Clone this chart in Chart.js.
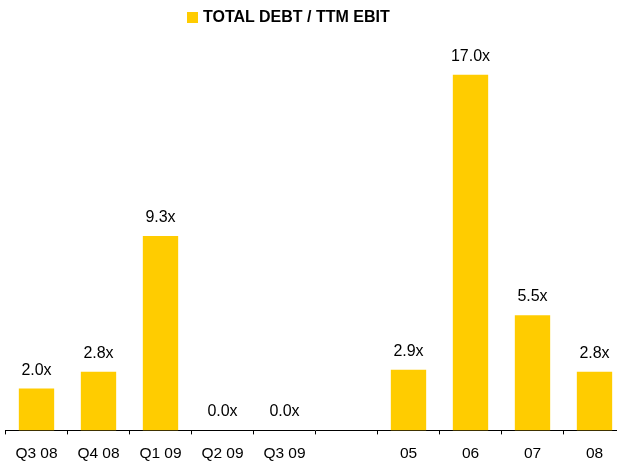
<!DOCTYPE html>
<html>
<head>
<meta charset="utf-8">
<script src="https://cdn.jsdelivr.net/npm/chart.js@4"></script>
<style>
    html, body { margin: 0; padding: 0; background: #fff; overflow: hidden; }
    .wrap { position: relative; width: 617px; height: 462px; overflow: hidden; }
    .chart-box { position: absolute; left: 0; top: 0; width: 632px; height: 462px; }
    .legend-dot { position: absolute; left: 187px; top: 12px; width: 11px; height: 11px; background: #FFCC00; }
    .legend-text {
        position: absolute; left: 203px; top: 9px;
        font: bold 16px/16px 'Liberation Sans', Arial, sans-serif; color: #000; white-space: nowrap;
    }
</style>
</head>
<body>
<div class="wrap">
    <div class="chart-box"><canvas id="debtChart" width="632" height="462"></canvas></div>
    <div class="legend-dot"></div>
    <div class="legend-text">TOTAL DEBT / TTM EBIT</div>
</div>
<script>
// ===== DATA =====
const periods = ['Q3 08', 'Q4 08', 'Q1 09', 'Q2 09', 'Q3 09', '', '05', '06', '07', '08'];
const debtToEbit = [2.0, 2.8, 9.3, 0.0, 0.0, null, 2.9, 17.0, 5.5, 2.8];

const FONT = "'Liberation Sans', Arial, sans-serif";

// value labels above each bar ("17.0x")
const barValueLabels = {
    id: 'barValueLabels',
    afterDatasetsDraw(chart) {
        const ctx = chart.ctx;
        const meta = chart.getDatasetMeta(0);
        ctx.save();
        ctx.font = '16px ' + FONT;
        ctx.fillStyle = '#000';
        ctx.textAlign = 'center';
        ctx.textBaseline = 'alphabetic';
        meta.data.forEach((bar, i) => {
            const v = debtToEbit[i];
            if (v === null) return;
            ctx.fillText(v.toFixed(1) + 'x', bar.x, bar.y - 14);
        });
        ctx.restore();
    }
};

new Chart(document.getElementById('debtChart'), {
    type: 'bar',
    data: {
        labels: periods,
        datasets: [{
            label: 'TOTAL DEBT / TTM EBIT',
            data: debtToEbit,
            backgroundColor: '#FFCC00',
            borderWidth: 0,
            categoryPercentage: 1,
            barPercentage: 0.57,
        }]
    },
    options: {
        responsive: false,
        animation: false,
        layout: {
            padding: { top: 33, left: 5.5, right: 6.5, bottom: -11 }
        },
        plugins: {
            legend: { display: false },
            tooltip: { enabled: false }
        },
        scales: {
            x: {
                grid: {
                    offset: true,
                    drawOnChartArea: false,
                    drawTicks: true,
                    tickLength: 4,
                    color: '#000'
                },
                border: { display: true, color: '#000', width: 1 },
                ticks: {
                    font: { size: 15.5, family: FONT },
                    color: '#000',
                    padding: 10,
                    maxRotation: 0,
                    autoSkip: false
                }
            },
            y: {
                display: false,
                min: 0,
                max: 19
            }
        }
    },
    plugins: [barValueLabels]
});
</script>
</body>
</html>
